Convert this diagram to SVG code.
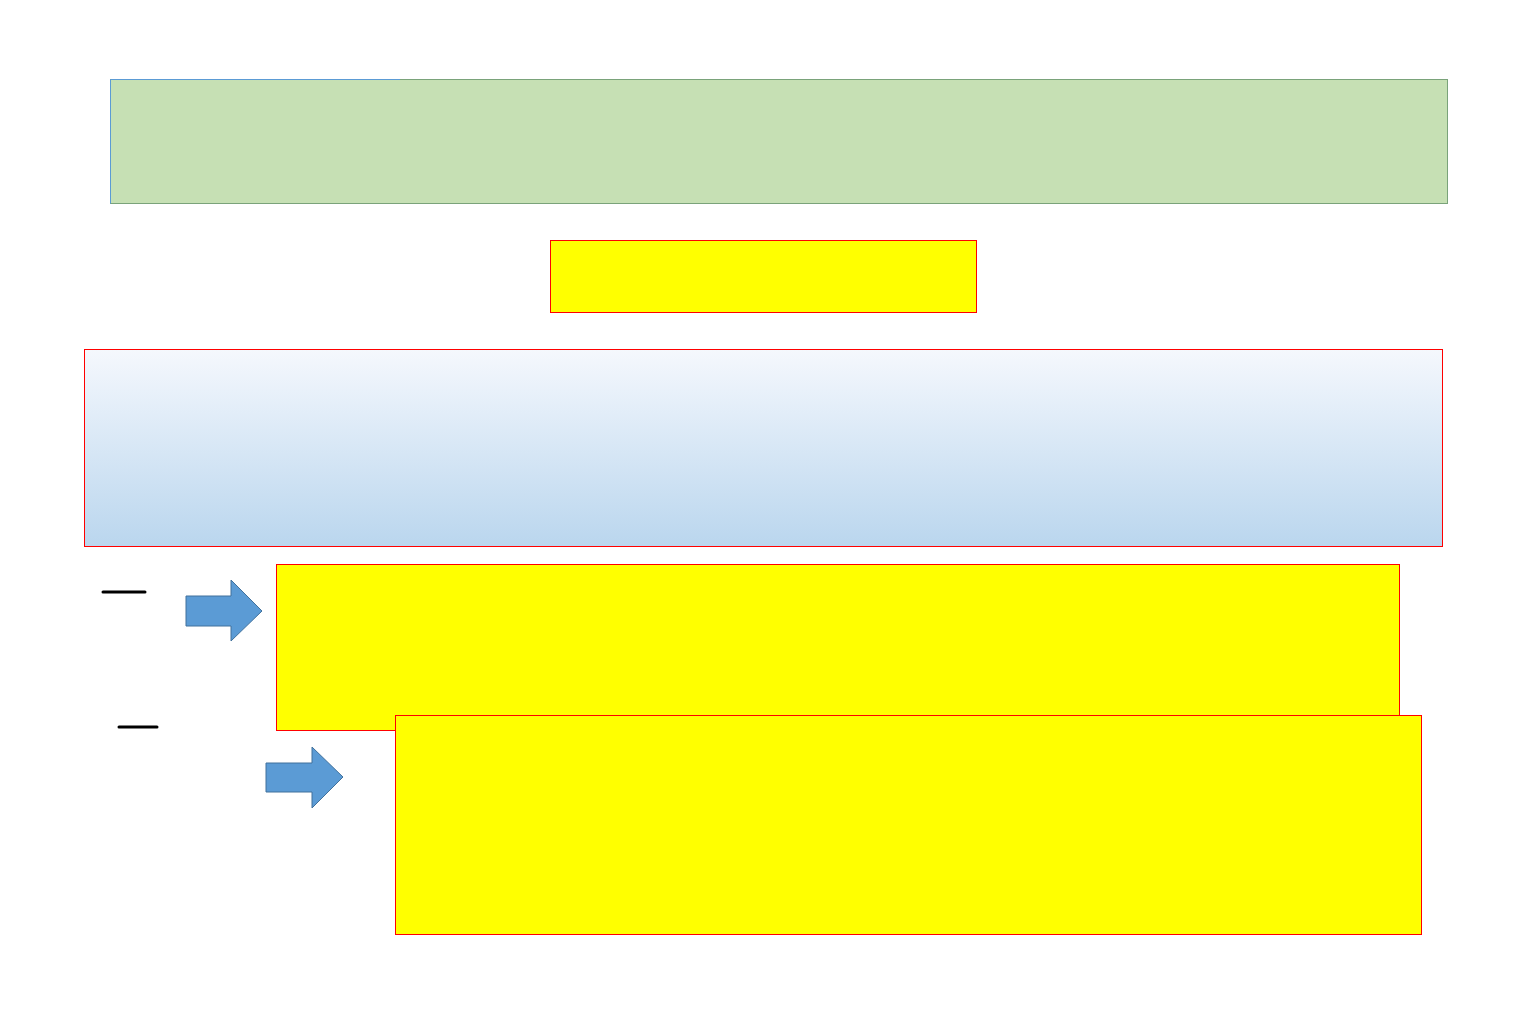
<svg xmlns="http://www.w3.org/2000/svg" width="1537" height="1032" viewBox="0 0 1537 1032">
<style>
.y{fill:#ffff00;stroke:#ff0000;stroke-width:1}
.ar{fill:#5b9bd5;stroke:#41719c;stroke-width:1}
.ln{stroke:#000;stroke-width:3;stroke-linecap:round}
</style>
<defs>
<linearGradient id="g" x1="0" y1="0" x2="0" y2="1">
<stop offset="0" stop-color="#f5f8fd"/>
<stop offset="1" stop-color="#bad6ee"/>
</linearGradient>
</defs>
<rect width="1537" height="1032" fill="#fff"/>
<g id="header"><rect x="110.5" y="79.5" width="1337" height="124" fill="#c6e0b4" stroke="#7aa37a"/><path d="M110.5 203.5V79.5H400" fill="none" stroke="#5b9bd5"/></g>
<g id="title"><rect class="y" x="550.5" y="240.5" width="426" height="72"/></g>
<g id="band"><rect x="84.5" y="349.5" width="1358" height="197" fill="url(#g)" stroke="#ff0000"/></g>
<g id="box1"><rect class="y" x="276.5" y="564.5" width="1123" height="166"/></g>
<g id="box2"><rect class="y" x="395.5" y="715.5" width="1026" height="219"/></g>
<g id="connectors">
<path class="ar" d="M186 596H231V580L262 611L231 641V626H186Z"/>
<path class="ar" d="M266 763H312V747L343 777L312 808V792H266Z"/>
<line class="ln" x1="103" y1="592" x2="145" y2="592"/>
<line class="ln" x1="119" y1="727" x2="157" y2="727"/>
</g>
</svg>
